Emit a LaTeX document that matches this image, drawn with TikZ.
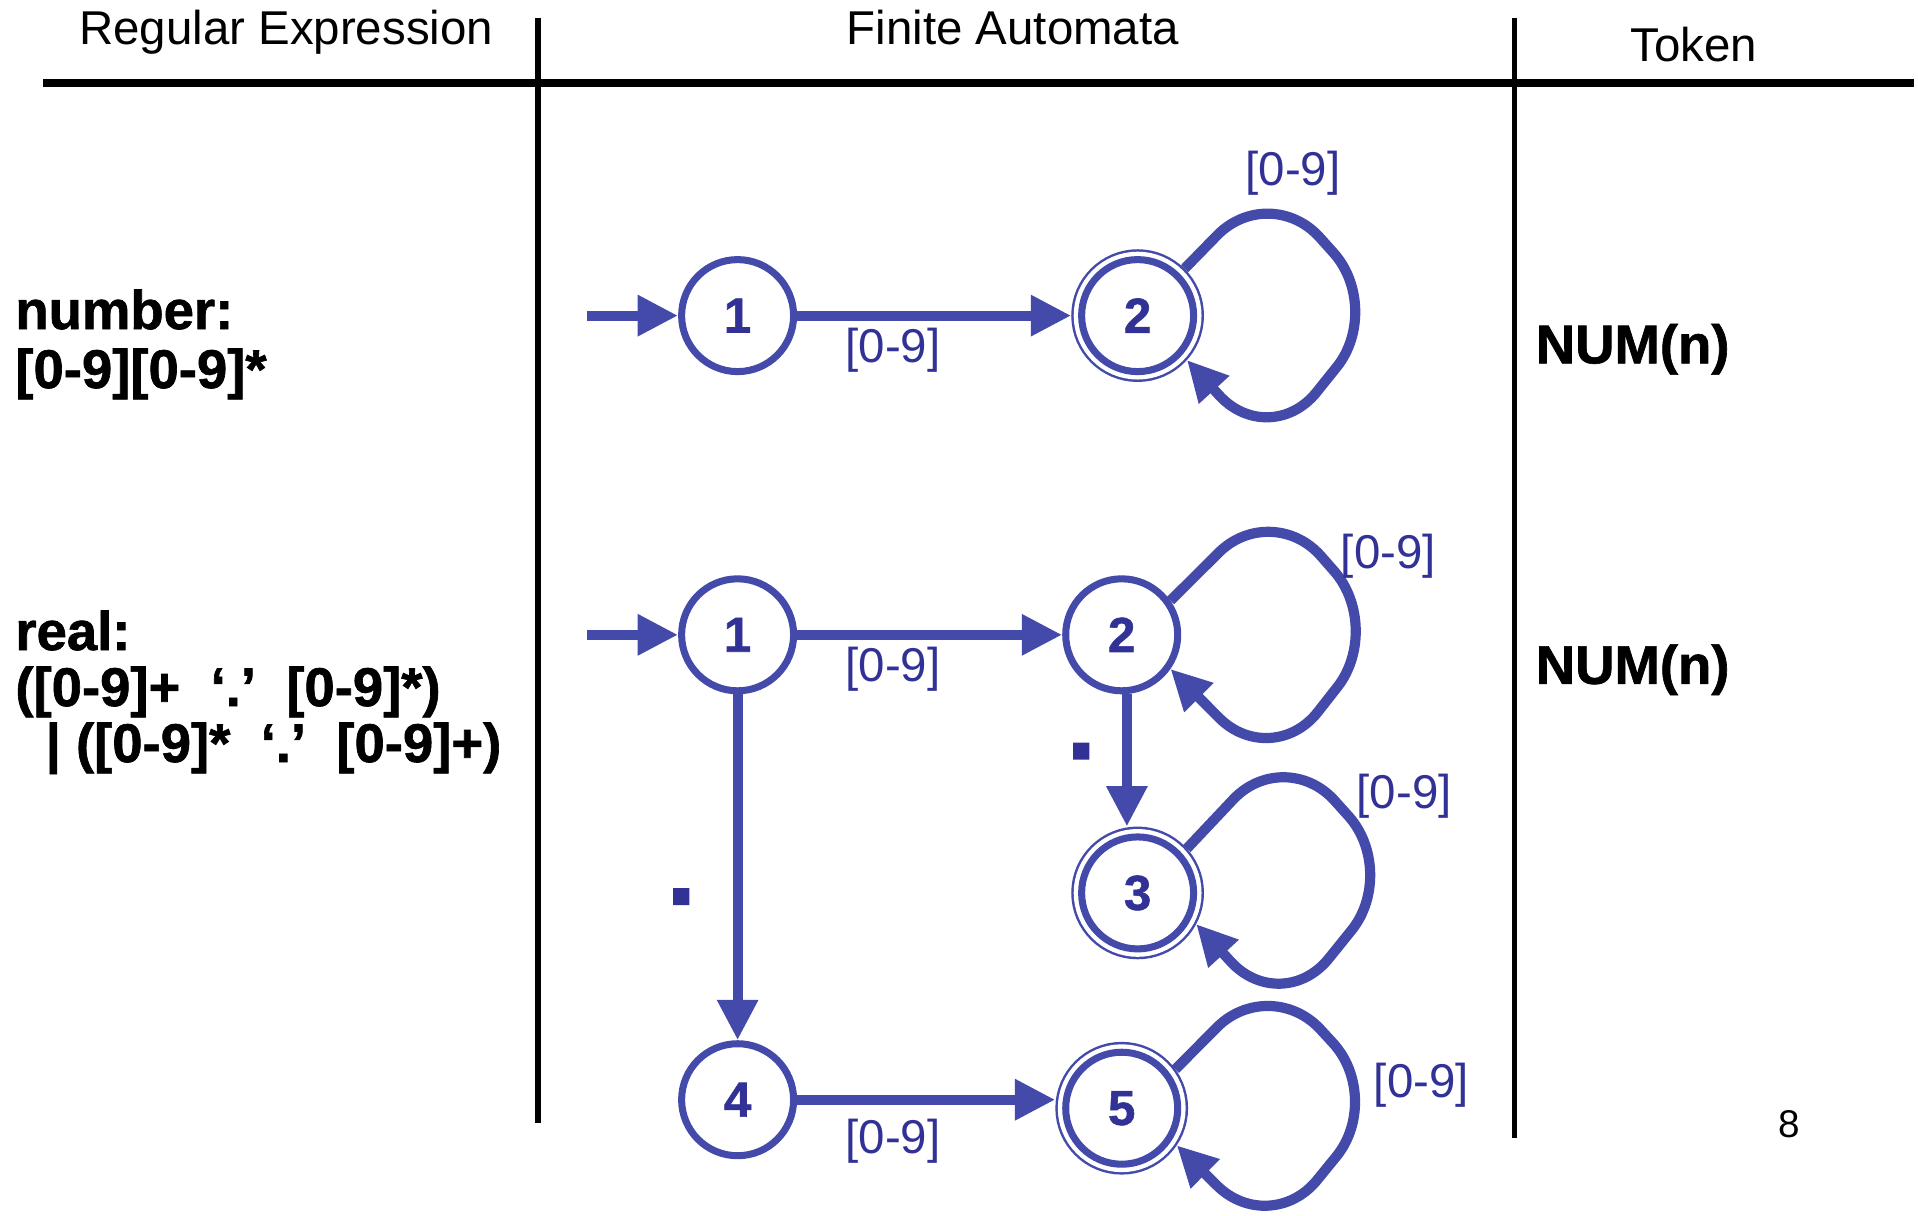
\documentclass[tikz,border=0pt]{standalone}
\usepackage{fontspec}
\setmainfont{Liberation Sans}
\newfontfamily\heavyfont[BoldFeatures={FakeBold=1.2}]{Liberation Sans}
\usetikzlibrary{
    arrows.meta,
    positioning,
    calc,
}

\definecolor{fablue}{RGB}{67,74,170}
\definecolor{fatext}{RGB}{50,50,150}

\tikzset{
    rule/.style={line width=1.6pt, black},
    head/.style={font=\fontsize{13.5}{16}\selectfont, inner sep=0pt, anchor=base},
    regex/.style={font=\fontsize{15.5}{18}\selectfont\heavyfont\bfseries, inner sep=0pt, anchor=base west},
    state/.style={circle, draw=fablue, line width=2pt, fill=white,
        minimum size=1.12cm, inner sep=0pt, text=fatext,
        font=\fontsize{14}{14}\selectfont\heavyfont\bfseries},
    accstate/.style={state, outer sep=2.95pt,
        preaction={draw=fablue, line width=5.9pt},
        preaction={draw=white, line width=4.5pt}},
    edge/.style={draw=fablue, line width=2.9pt,
        -{Triangle[length=11.5pt, width=11pt]}},
    loopline/.style={edge, rounded corners=0.75cm},
    lbl/.style={text=fatext, font=\fontsize{13.5}{16}\selectfont, inner sep=0pt},
    dotlbl/.style={text=fatext, font=\fontsize{30}{30}\selectfont\heavyfont\bfseries, inner sep=0pt},
}

\begin{document}
\begin{tikzpicture}
        \fill[white] (0,0) rectangle (19.18,-12.15);
        \useasboundingbox (0,0) rectangle (19.18,-12.15);

        % table frame
        \node[head] (hre) at (2.862,-0.44) {Regular Expression};
        \node[head] (hfa) at (10.128,-0.44) {Finite Automata};
        \node[head] (htok) at (16.94,-0.61) {Token};
        \draw[rule, line width=2.3pt] (0.428,-0.832) -- (19.14,-0.832);
        \draw[rule] (5.382,-0.183) -- (5.382,-11.23);
        \draw[rule] (15.143,-0.183) -- (15.143,-11.376);

        % regular expressions
        \node[regex] (num1) at (0.147,-3.29) {number:};
        \node[regex] (num2) at (0.147,-3.88) {[0-9][0-9]*};
        \node[regex] (real1) at (0.147,-6.5) {real:};
        \node[regex] (real2) at (0.147,-7.06) {([0-9]+~~‘.’~~[0-9]*)};
        \node[regex] (real3) at (0.45,-7.62) {| ([0-9]*~~‘.’~~[0-9]+)};

        % tokens
        \node[regex] (tok1) at (15.351,-3.633) {NUM(n)};
        \node[regex] (tok2) at (15.351,-6.838) {NUM(n)};
        \node[font=\fontsize{11}{13}\selectfont, inner sep=0pt, anchor=base] (pg) at (17.896,-11.376) {8};

        % number automaton
        \coordinate (t0) at (5.871,-3.156);
        \node[state] (t1) at (7.376,-3.156) {1};
        \node[accstate] (t2) at (11.376,-3.156) {2};
        \draw[edge] (t0) -- (t1);
        \draw[edge] (t1) -- (t2);
        \node[lbl] (tl12) at (8.929,-3.498) {[0-9]};
        \draw[loopline] (t2.45) -- ($(t2)+(1.32,1.34)$) -- ($(t2)+(2.46,0.07)$)
            -- ($(t2)+(1.32,-1.35)$) -- (t2.-42);
        \node[lbl] (tl22) at (12.929,-1.737) {[0-9]};

        % real automaton
        \coordinate (r0) at (5.871,-6.348);
        \node[state] (r1) at (7.376,-6.348) {1};
        \node[state] (r2) at (11.217,-6.348) {2};
        \node[accstate] (r3) at (11.376,-8.929) {3};
        \node[state] (r4) at (7.376,-10.997) {4};
        \node[accstate] (r5) at (11.217,-11.082) {5};

        \draw[edge] (r0) -- (r1);
        \draw[edge] (r1) -- (r2);
        \node[lbl] (rl12) at (8.929,-6.691) {[0-9]};
        \draw[edge] (r2.-85) -- (r2.-85 |- r3.north);
        \node[dotlbl] (rl23) at (10.813,-7.51) {.};
        \draw[edge] (r1) -- (r4);
        \node[dotlbl] (rl14) at (6.813,-8.966) {.};
        \draw[edge] (r4) -- (r4 -| r5.west);
        \node[lbl] (rl45) at (8.929,-11.413) {[0-9]};

        \draw[loopline] (r2.35) -- ($(r2)+(1.5,1.35)$) -- ($(r2)+(2.62,0.07)$)
            -- ($(r2)+(1.5,-1.36)$) -- (r2.-35);
        \node[lbl] (rl22) at (13.883,-5.566) {[0-9]};
        \draw[loopline] (r3.42) -- ($(r3)+(1.47,1.48)$) -- ($(r3)+(2.61,0.21)$)
            -- ($(r3)+(1.44,-1.24)$) -- (r3.-28);
        \node[lbl] (rl33) at (14.042,-7.963) {[0-9]};
        \draw[loopline] (r5.36) -- ($(r5)+(1.48,1.34)$) -- ($(r5)+(2.62,0.1)$)
            -- ($(r5)+(1.48,-1.3)$) -- (r5.-34);
        \node[lbl] (rl55) at (14.214,-10.85) {[0-9]};
    \end{tikzpicture}
\end{document}
